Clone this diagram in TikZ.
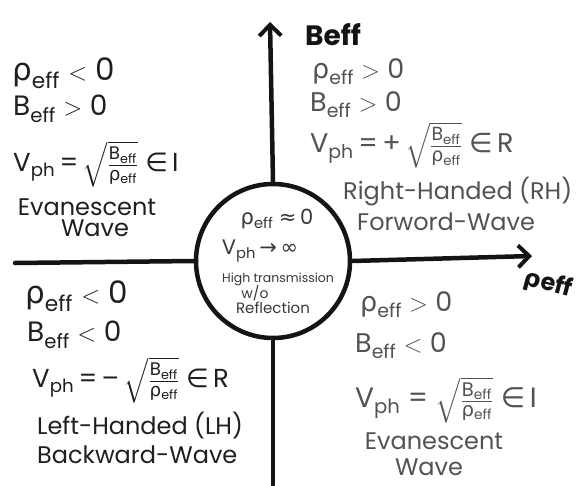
\documentclass[tikz,border=0pt]{standalone}
\usepackage{amsmath}
\usepackage{fontspec}
\setmainfont{Poppins}
\newfontfamily\symf{DejaVu Sans}
\usetikzlibrary{arrows.meta}
\tikzset{
  ax/.style={line width=4.5pt, line cap=round, draw=black!92},
  tip/.style={-{Straight Barb[length=11pt,width=22pt,line width=4pt]}},
  dark/.style={text=black!88, inner sep=0pt, anchor=west, font=\fontsize{28}{32}\selectfont},
  pencil/.style={text=black!68, inner sep=0pt, anchor=west, font=\fontsize{27}{32}\selectfont},
  darkw/.style={text=black!88, inner sep=0pt, font=\fontsize{24}{28}\selectfont},
  pencilw/.style={text=black!68, inner sep=0pt, font=\fontsize{24}{28}\selectfont},
  axlab/.style={text=black!92, inner sep=0pt, font=\bfseries\fontsize{28}{32}\selectfont},
  ctr/.style={text=black!78, inner sep=0pt, align=center},
}
\newcommand{\reff}{{\symf ρ}\textsubscript{eff}}
\newcommand{\beff}{B\textsubscript{eff}}
\newcommand{\vph}{V\textsubscript{ph}}
\newcommand{\rootfrac}{$\sqrt{\frac{\text{\beff}}{\text{\reff}}}$}
\newcommand{\inset}{{\symf ∈}}
\newcommand{\less}{\ $<$\ }
\newcommand{\more}{\ $>$\ }
\begin{document}
\begin{tikzpicture}[x=1pt,y=-1pt]
\useasboundingbox (0,0) rectangle (576,485);
% centre circle
\node[circle, draw=black!92, line width=4.5pt, minimum size=154pt, inner sep=0pt] (c) at (273,261) {};
% axes
\coordinate (ytip) at (270,22);
\coordinate (ybot) at (273,485);
\coordinate (xleft) at (15,263);
\coordinate (xtip) at (532,256);
\draw[ax,tip] (c.north) -- (ytip);
\draw[ax] (c.south) -- (ybot);
\draw[ax] (c.west) -- (xleft);
\draw[ax,tip] (c.east) -- (xtip);
% axis labels
\node[axlab] (lb) at (333,35) {Beff};
\node[axlab, rotate=-15, font=\bfseries\fontsize{24}{28}\selectfont] (lr) at (548,284) {{\symf ρ}eff};
% centre text
\node[ctr, font=\fontsize{21}{24}\selectfont] (c1) at (277,219) {\reff\ {\symf ≈}\,0};
\node[ctr, font=\fontsize{21}{24}\selectfont] (c2) at (260,251) {\vph\,{\symf →}\,{\symf ∞}};
\node[ctr, font=\fontsize{12.5}{14}\selectfont] (c3) at (278,279) {High transmission};
\node[ctr, font=\fontsize{14}{15}\selectfont] (c4) at (255,293) {w/o};
\node[ctr, font=\fontsize{15}{16}\selectfont] (c5) at (273,308) {Reflection};
% top-left quadrant
\node[dark, font=\fontsize{31}{34}\selectfont] (tl1) at (12,73) {\reff\less 0};
\node[dark] (tl2) at (13,109) {\beff\more 0};
\node[dark, font=\fontsize{26}{30}\selectfont] (tl3) at (13,164) {\vph\,=\,\rootfrac\ \inset\,I};
\node[darkw] (tl4) at (87,207) {Evanescent};
\node[darkw] (tl5) at (95,228) {Wave};
% top-right quadrant
\node[pencil] (tr1) at (312,72) {\reff\more 0};
\node[pencil] (tr2) at (310,105) {\beff\more 0};
\node[pencil, font=\fontsize{27}{30}\selectfont] (tr3) at (310,145) {\vph\,=\,+\,\rootfrac\ \inset\,R};
\node[pencilw, anchor=west] (tr4) at (343,192) {Right-Handed (RH)};
\node[pencilw, anchor=west] (tr5) at (357,222) {Forword-Wave};
% bottom-left quadrant
\node[dark, font=\fontsize{31}{34}\selectfont] (bl1) at (25,296) {\reff\less 0};
\node[dark] (bl2) at (27,335) {\beff\less 0};
\node[dark, font=\fontsize{26}{30}\selectfont] (bl3) at (32,380) {\vph\,=\,–\,\rootfrac\ \inset\,R};
\node[darkw, anchor=west] (bl4) at (37,426) {Left-Handed (LH)};
\node[darkw, anchor=west] (bl5) at (37,455) {Backward-Wave};
% bottom-right quadrant
\node[pencil] (br1) at (360,305) {\reff\more 0};
\node[pencil] (br2) at (355,346) {\beff\less 0};
\node[pencil, font=\fontsize{28}{30}\selectfont] (br3) at (355,400) {\vph\ =\ \rootfrac\ \inset\,I};
\node[pencilw] (br4) at (434,441) {Evanescent};
\node[pencilw] (br5) at (429,467) {Wave};
\end{tikzpicture}
\end{document}
